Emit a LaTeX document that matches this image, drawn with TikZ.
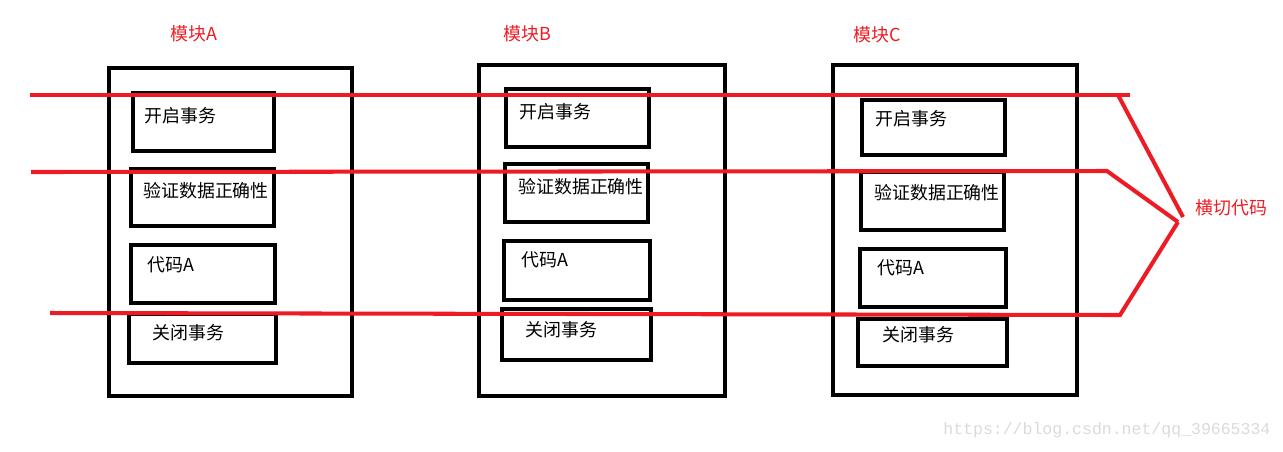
\documentclass[tikz,border=0pt]{standalone}
\usepackage{fontspec}
\setmainfont{Noto Sans CJK SC}
\setmonofont{Liberation Mono}
\usepackage{tikz}
\usetikzlibrary{positioning,fit,calc}

\definecolor{penred}{HTML}{ED1C24}
\definecolor{markgray}{HTML}{DADADA}

\begin{document}
\begin{tikzpicture}[
    x=0.02cm, y=-0.02cm,
    font=\fontsize{10.2pt}{12pt}\selectfont,
    modbox/.style={rectangle, draw=black, line width=2.3pt, inner sep=0pt},
    stepbox/.style={rectangle, draw=black, line width=2.3pt, inner sep=0pt},
    steptext/.style={anchor=west, inner sep=0pt, text=black},
    modtitle/.style={anchor=west, inner sep=0pt, text=penred},
    cutline/.style={draw=penred, line width=2.3pt, line join=miter}
]
\useasboundingbox (0,0) rectangle (1283,451);

% module A
\node[modtitle] (tA) at (170,34) {模块A};
\node[modbox, fit={(109,68) (352,396)}] (modA) {};
\node[stepbox, fit={(133,93) (274,151)}] (a1) {};
\node[stepbox, fit={(131,169) (274,226)}] (a2) {};
\node[stepbox, fit={(131,245) (275,303)}] (a3) {};
\node[stepbox, fit={(129,314) (276,363)}] (a4) {};
\node[steptext] at (144,116) {开启事务};
\node[steptext] at (143,191) {验证数据正确性};
\node[steptext] at (147,265) {代码A};
\node[steptext] at (152,333) {关闭事务};

% module B
\node[modtitle] (tB) at (503,34) {模块B};
\node[modbox, fit={(479,65) (725,396)}] (modB) {};
\node[stepbox, fit={(506,89) (649,147)}] (b1) {};
\node[stepbox, fit={(505,164) (648,222)}] (b2) {};
\node[stepbox, fit={(504,241) (650,300)}] (b3) {};
\node[stepbox, fit={(502,309) (651,360)}] (b4) {};
\node[steptext] at (519,112) {开启事务};
\node[steptext] at (518,187) {验证数据正确性};
\node[steptext] at (521,260) {代码A};
\node[steptext] at (525,330) {关闭事务};

% module C
\node[modtitle] (tC) at (853,35) {模块C};
\node[modbox, fit={(833,65) (1077,395)}] (modC) {};
\node[stepbox, fit={(862,100) (1005,155)}] (c1) {};
\node[stepbox, fit={(861,172) (1004,230)}] (c2) {};
\node[stepbox, fit={(860,249) (1006,307)}] (c3) {};
\node[stepbox, fit={(858,319) (1007,366)}] (c4) {};
\node[steptext] at (875,119) {开启事务};
\node[steptext] at (874,193) {验证数据正确性};
\node[steptext] at (877,268) {代码A};
\node[steptext] at (882,335) {关闭事务};

% cross-cutting lines
\coordinate (l1s) at (30,95);
\coordinate (l1e) at (1130,95);
\coordinate (l1k) at (1118,95);
\coordinate (l2s) at (31,172);
\coordinate (l2k) at (1107,171);
\coordinate (l3s) at (50,313);
\coordinate (l3k) at (1120,315);
\coordinate (tip1) at (1183,217);
\coordinate (tip2) at (1178,222);
\node[modtitle] (cut) at (1195,208) {横切代码};

\draw[cutline] (l1s) -- (l1e);
\draw[cutline] (l1k) -- (tip1);
\draw[cutline] (l2s) -- (l2k) -- (tip2);
\draw[cutline] (l3s) -- (l3k) -- (tip2);

% watermark
\node[anchor=west, inner sep=0pt, text=markgray, font=\ttfamily\fontsize{9.4pt}{11pt}\selectfont] (mark) at (943,430) {https://blog.csdn.net/qq\_39665334};
\end{tikzpicture}
\end{document}
